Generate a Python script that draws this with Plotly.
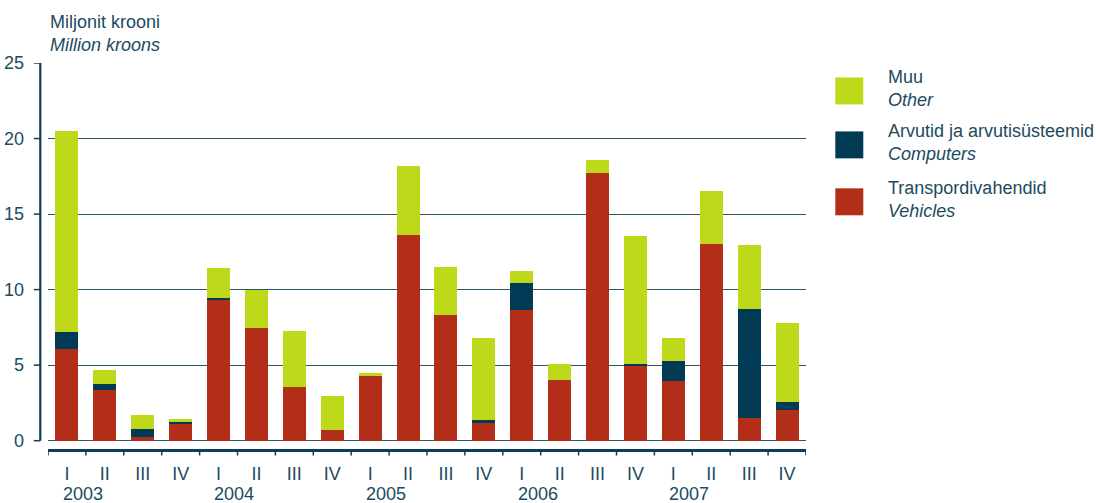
import plotly.graph_objects as go

# ---- data ----
quarters = ["I", "II", "III", "IV"] * 5
years = ["2003", "2004", "2005", "2006", "2007"]
vehicles = [6.05, 3.35, 0.24, 1.10, 9.36, 7.45, 3.55, 0.71, 4.34, 13.60,
            8.30, 1.17, 8.62, 4.01, 17.69, 4.93, 3.95, 13.00, 1.50, 2.03]
computers = [1.12, 0.40, 0.53, 0.14, 0.07, 0.00, 0.00, 0.00, 0.00, 0.00,
             0.00, 0.20, 1.80, 0.00, 0.00, 0.14, 1.32, 0.00, 7.20, 0.53]
other = [13.36, 0.92, 0.92, 0.18, 1.97, 2.55, 3.70, 2.24, 0.13, 4.60,
         3.17, 5.42, 0.79, 1.06, 0.86, 8.46, 1.52, 3.56, 4.23, 5.22]
y_ticks = [0, 5, 10, 15, 20, 25]

series = [
    ("Transpordivahendid", "Vehicles", vehicles, "#b22e18"),
    ("Arvutid ja arvutisüsteemid", "Computers", computers, "#003a54"),
    ("Muu", "Other", other, "#bed919"),
]

TXT = "#1b4a61"
AX = "#0e3e56"
FONT = "Liberation Sans, Arial, sans-serif"
FS = 18

W, H = 1096, 503
L, R = 47.7, 805.7
T, B = 62.5, 449.0
PW, PH = R - L, B - T


def px_x(p):
    return (p - L) / PW


def px_y(p):
    return (B - p) / PH


x = list(range(len(quarters)))

fig = go.Figure()
for name_et, name_en, vals, col in series:
    fig.add_trace(go.Bar(x=x, y=vals, name=f"{name_et}<br><i>{name_en}</i>",
                         marker=dict(color=col, line=dict(width=0)),
                         showlegend=False))

shapes = []
# left axis line
shapes.append(dict(type="line", xref="paper", yref="y", x0=px_x(40), x1=px_x(40),
                   y0=0, y1=max(y_ticks), line=dict(color=AX, width=2.2)))
# left axis ticks
for v in y_ticks:
    shapes.append(dict(type="line", xref="paper", yref="y", x0=px_x(33.5), x1=px_x(40),
                       y0=v, y1=v, line=dict(color=AX, width=1.5)))
# bottom axis ticks at category boundaries
for i in range(len(quarters) + 1):
    shapes.append(dict(type="line", xref="x", yref="paper", x0=i - 0.5, x1=i - 0.5,
                       y0=0, y1=px_y(455.5), line=dict(color=AX, width=1.5)))

# custom legend
leg_centers = [201.5, 144.5, 90.5]
annotations = []
for (name_et, name_en, vals, col), cy in zip(series, leg_centers):
    shapes.append(dict(type="rect", xref="paper", yref="paper",
                       x0=px_x(835), x1=px_x(863), y0=px_y(cy + 13.5), y1=px_y(cy - 13.5),
                       fillcolor=col, line=dict(width=0)))
    annotations.append(dict(xref="paper", yref="paper", x=px_x(886), y=px_y(cy - 2.5),
                            xanchor="left", yanchor="middle", align="left", showarrow=False,
                            text=f"{name_et}<br><i>{name_en}</i>",
                            font=dict(family=FONT, size=FS, color=TXT)))

# y-axis title
annotations.append(dict(xref="paper", yref="paper", x=px_x(48), y=px_y(33),
                        xanchor="left", yanchor="middle", align="left", showarrow=False,
                        text="Miljonit krooni<br><i>Million kroons</i>",
                        font=dict(family=FONT, size=FS, color=TXT)))

# year labels
for k, yr in enumerate(years):
    annotations.append(dict(xref="x", yref="paper", x=k * 4 + 0.42, y=px_y(494.5),
                            xanchor="center", yanchor="middle", showarrow=False,
                            text=yr, font=dict(family=FONT, size=FS, color=TXT)))

fig.update_layout(
    width=W, height=H,
    margin=dict(l=L, r=W - R, t=T, b=H - B, pad=0),
    barmode="stack", bargap=0.393,
    plot_bgcolor="white", paper_bgcolor="white",
    font=dict(family=FONT, size=FS, color=TXT),
    showlegend=False,
    shapes=shapes, annotations=annotations,
    xaxis=dict(range=[-0.5, len(quarters) - 0.5], tickmode="array", tickvals=x,
               ticktext=quarters, ticks="", showgrid=False, zeroline=False,
               showline=True, linecolor=AX, linewidth=2.5, automargin=False,
               ticklabelstandoff=7, tickfont=dict(family=FONT, size=FS, color=TXT)),
    yaxis=dict(range=[-0.55, 25], tickmode="array", tickvals=y_ticks, ticks="",
               showgrid=True, gridcolor="#2e5568", gridwidth=1.3, zeroline=False,
               showline=False, ticklabelstandoff=23, automargin=False,
               tickfont=dict(family=FONT, size=FS, color=TXT)),
)

fig.write_html("out.html", config={"displayModeBar": False},
               post_script="document.body.style.margin='0';document.body.style.overflow='hidden';")
